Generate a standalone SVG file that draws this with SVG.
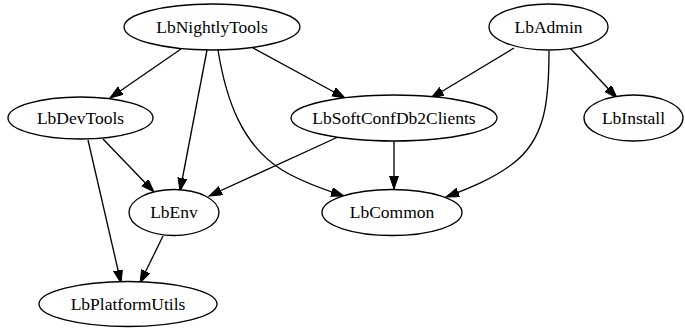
<svg xmlns="http://www.w3.org/2000/svg" width="685" height="328" viewBox="0 0 685 328">
<style>
.n ellipse{fill:#fff;stroke:#000;stroke-width:1.33}
.n text{font-family:'Liberation Serif','Times New Roman',serif;font-size:17.5px;text-anchor:middle;fill:#000}
.e path{fill:none;stroke:#000;stroke-width:1.33;marker-end:url(#ah)}
</style>
<defs>
<marker id="ah" markerUnits="userSpaceOnUse" markerWidth="14" markerHeight="10" refX="13" refY="4.5" orient="auto">
<path d="M0,0 L13,4.5 L0,9 z" fill="#000" stroke="#000" stroke-width="1"/>
</marker>
</defs>
<rect width="685" height="328" fill="#fff"/>
<g id="edges" class="e">
<path d="M181,49 L110,98"/>
<path d="M253,48 L345,98"/>
<path d="M207,50 L180,191"/>
<path d="M218,50 C226,100 242,145 282,170 C302,182 322,189 344,196"/>
<path d="M514,48 L431,98"/>
<path d="M570,48 L617,98"/>
<path d="M549,51 C549,100 546,140 511,165 C492,179 470,188 446,197"/>
<path d="M338,137 L209,196"/>
<path d="M394,141 L394,189"/>
<path d="M103,139 L154,192"/>
<path d="M88,140 L121,283"/>
<path d="M163,236 L140,283"/>
</g>
<g id="LbNightlyTools" class="n"><ellipse cx="212" cy="27" rx="88" ry="23"/><text x="212" y="32.5">LbNightlyTools</text></g>
<g id="LbAdmin" class="n"><ellipse cx="548.5" cy="27" rx="59.5" ry="23"/><text x="548.5" y="32.5">LbAdmin</text></g>
<g id="LbDevTools" class="n"><ellipse cx="80.5" cy="118" rx="72.5" ry="21"/><text x="80.5" y="123.5">LbDevTools</text></g>
<g id="LbSoftConfDb2Clients" class="n"><ellipse cx="394" cy="118" rx="103" ry="23"/><text x="394" y="123.5">LbSoftConfDb2Clients</text></g>
<g id="LbInstall" class="n"><ellipse cx="633.5" cy="118" rx="49.5" ry="23"/><text x="633.5" y="123.5">LbInstall</text></g>
<g id="LbEnv" class="n"><ellipse cx="174" cy="212.5" rx="45" ry="23"/><text x="174" y="218">LbEnv</text></g>
<g id="LbCommon" class="n"><ellipse cx="392" cy="212.5" rx="70" ry="23"/><text x="392" y="218">LbCommon</text></g>
<g id="LbPlatformUtils" class="n"><ellipse cx="128" cy="304" rx="89" ry="22.5"/><text x="128" y="309.5">LbPlatformUtils</text></g>
</svg>
